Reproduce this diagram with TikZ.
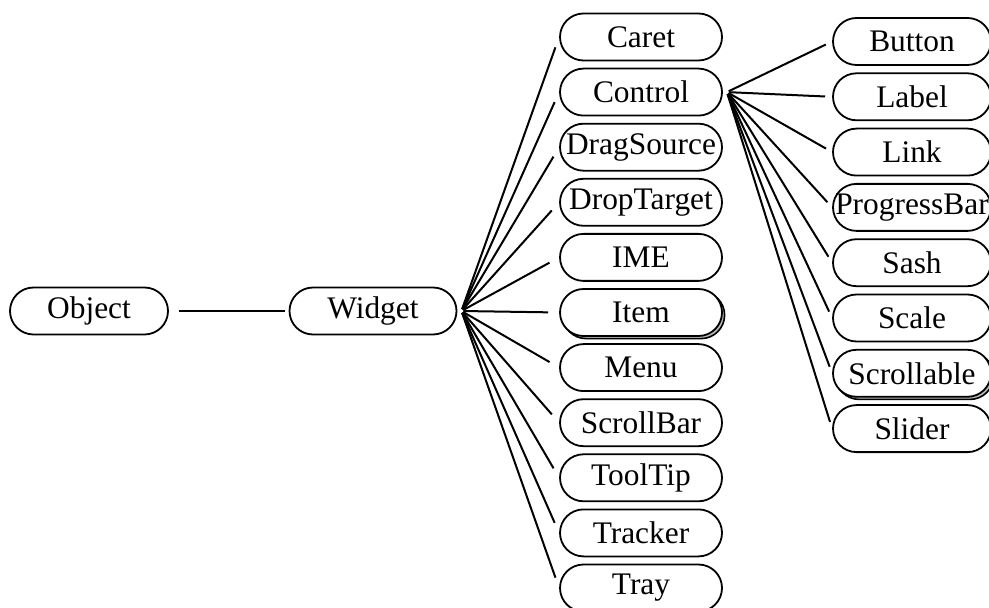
\documentclass[tikz,border=0pt]{standalone}
\usepackage{fontspec}
\setmainfont{Liberation Serif}
\usetikzlibrary{shadows}
\tikzset{
  cls/.style={draw, line width=0.9pt, rectangle, rounded corners=11.75pt,
    minimum width=81pt, minimum height=23.5pt, inner sep=0pt, fill=white,
    font=\fontsize{15.7}{18}\selectfont},
  plain/.style={},
  abstract/.style={general shadow={shadow xshift=1.3pt, shadow yshift=-1.3pt,
    draw=black, line width=0.8pt, fill=gray!55}},
  link/.style={line width=1pt}
}
\begin{document}
\begin{tikzpicture}[x=0.5pt, y=-0.5pt]
    \useasboundingbox (0,0) rectangle (989,608);
    \node[cls, minimum width=79pt] (object) at (89,311) {Object};
    \node[cls, minimum width=83.5pt] (widget) at (373,311) {Widget};
    \draw[link, shorten <=5pt, shorten >=2pt] (object) -- (widget);
    \coordinate (wfan) at ([xshift=2pt]widget.east);
    \foreach \name/\txt/\sty [count=\i from 0] in {caret/Caret/plain,
        control/Control/plain, dragsource/DragSource/plain,
        droptarget/DropTarget/plain, ime/IME/plain, item/Item/abstract,
        menu/Menu/plain, scrollbar/ScrollBar/plain, tooltip/ToolTip/plain,
        tracker/Tracker/plain, tray/Tray/plain} {
        \node[cls, \sty] (\name) at (641,37+55.1*\i) {\txt};
        \draw[link, shorten <=1pt, shorten >=5.5pt] (wfan) -- (\name.west);
    }
    \coordinate (cfan) at ([xshift=2pt]control.east);
    \foreach \name/\txt/\sty [count=\i from 0] in {button/Button/plain,
        label/Label/plain, link/Link/plain, progressbar/ProgressBar/plain,
        sash/Sash/plain, scale/Scale/plain, scrollable/Scrollable/abstract,
        slider/Slider/plain} {
        \node[cls, minimum width=79pt, \sty] (\name) at (912,41.5+55.3*\i) {\txt};
        \draw[link, shorten <=1pt, shorten >=3.5pt] (cfan) -- (\name.west);
    }
\end{tikzpicture}
\end{document}
